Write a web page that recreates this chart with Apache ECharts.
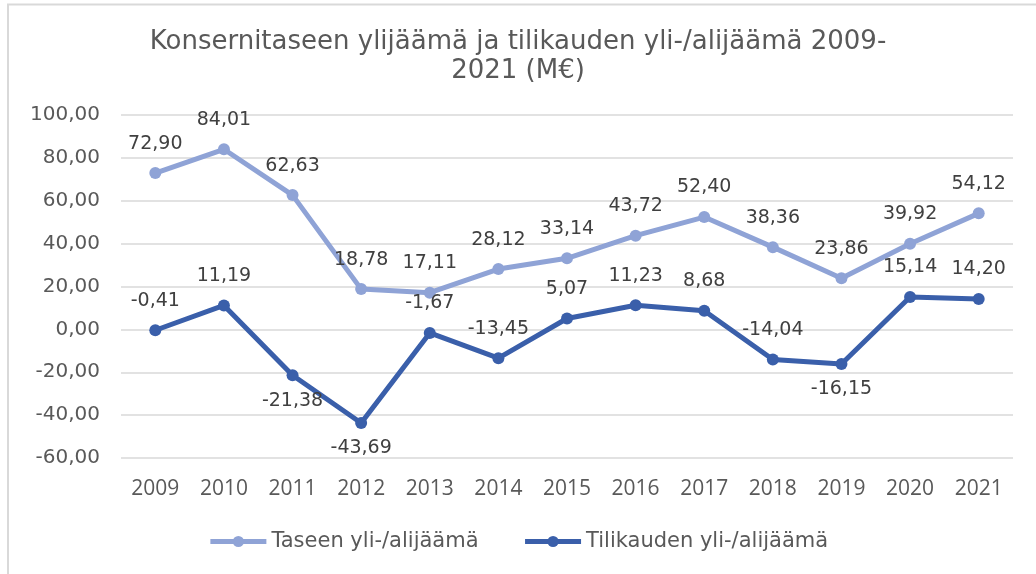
<!DOCTYPE html>
<html>
<head>
<meta charset="utf-8">
<script src="https://cdn.jsdelivr.net/npm/echarts@6/dist/echarts.min.js"></script>
<style>
  html, body { margin: 0; padding: 0; background: #fff; }
  #chart { width: 1036px; height: 574px; }
</style>
</head>
<body>
<div id="chart"></div>
<script>
// Vuodet ja sarjat (M€)
const years = ['2009','2010','2011','2012','2013','2014','2015','2016','2017','2018','2019','2020','2021'];
const taseenYlijaama = [72.90, 84.01, 62.63, 18.78, 17.11, 28.12, 33.14, 43.72, 52.40, 38.36, 23.86, 39.92, 54.12];
const tilikaudenTulos = [-0.41, 11.19, -21.38, -43.69, -1.67, -13.45, 5.07, 11.23, 8.68, -14.04, -16.15, 15.14, 14.20];
// Tilikauden arvot, joiden tunniste piirretään pisteen alle
const labelBelow = ['2011', '2012', '2019'];

const WIDE = '"DejaVu Sans", "Noto Sans", sans-serif';
const NARROW = '"Open Sans", "Noto Sans", sans-serif';
const LIGHT = '#8FA3D6';
const DARK = '#3A5FAA';

const fmt = v => v.toFixed(2).replace('.', ',');

const chart = echarts.init(document.getElementById('chart'), null, { renderer: 'canvas' });

const labelStyle = {
  show: true,
  position: 'top',
  distance: 14,
  fontFamily: WIDE,
  fontSize: 19,
  color: '#404040',
  formatter: p => fmt(p.value)
};

chart.setOption({
  backgroundColor: '#fff',
  animation: false,
  title: {
    text: 'Konsernitaseen ylijäämä ja tilikauden yli-/alijäämä 2009-\n2021 (M€)',
    left: 'center',
    top: 23,
    textStyle: {
      fontFamily: WIDE,
      fontSize: 26,
      fontWeight: 'normal',
      color: '#595959',
      lineHeight: 29
    }
  },
  legend: {
    bottom: 17,
    left: 'center',
    itemWidth: 56,
    itemHeight: 14,
    itemGap: 44,
    lineStyle: { width: 5 },
    textStyle: { fontFamily: WIDE, fontSize: 21, color: '#595959' },
    data: ['Taseen yli-/alijäämä', 'Tilikauden yli-/alijäämä']
  },
  grid: { left: 121, right: 23, top: 115, bottom: 116 },
  xAxis: {
    type: 'category',
    data: years,
    boundaryGap: true,
    axisLine: { show: false },
    axisTick: { show: false },
    axisLabel: { fontFamily: NARROW, fontSize: 21, color: '#595959', margin: 21 }
  },
  yAxis: {
    type: 'value',
    min: -60,
    max: 100,
    interval: 20,
    axisLine: { show: false },
    axisTick: { show: false },
    splitLine: { lineStyle: { color: '#d9d9d9', width: 1.5 } },
    axisLabel: {
      fontFamily: WIDE,
      fontSize: 20,
      color: '#595959',
      margin: 21,
      formatter: v => fmt(v)
    }
  },
  series: [
    {
      name: 'Taseen yli-/alijäämä',
      type: 'line',
      data: taseenYlijaama,
      symbol: 'circle',
      symbolSize: 12,
      color: LIGHT,
      lineStyle: { width: 5, color: LIGHT },
      itemStyle: { color: LIGHT },
      label: labelStyle
    },
    {
      name: 'Tilikauden yli-/alijäämä',
      type: 'line',
      data: tilikaudenTulos.map((v, i) => ({
        value: v,
        label: labelBelow.includes(years[i])
          ? { position: 'bottom', distance: 10 }
          : { position: 'top' }
      })),
      symbol: 'circle',
      symbolSize: 12,
      color: DARK,
      lineStyle: { width: 5, color: DARK },
      itemStyle: { color: DARK },
      label: labelStyle
    }
  ],
  graphic: [
    {
      type: 'polyline',
      shape: { points: [[8, 574], [8, 4.5], [1036, 4.5]] },
      style: { stroke: '#d9d9d9', lineWidth: 2, fill: null },
      silent: true
    }
  ]
});
</script>
</body>
</html>
